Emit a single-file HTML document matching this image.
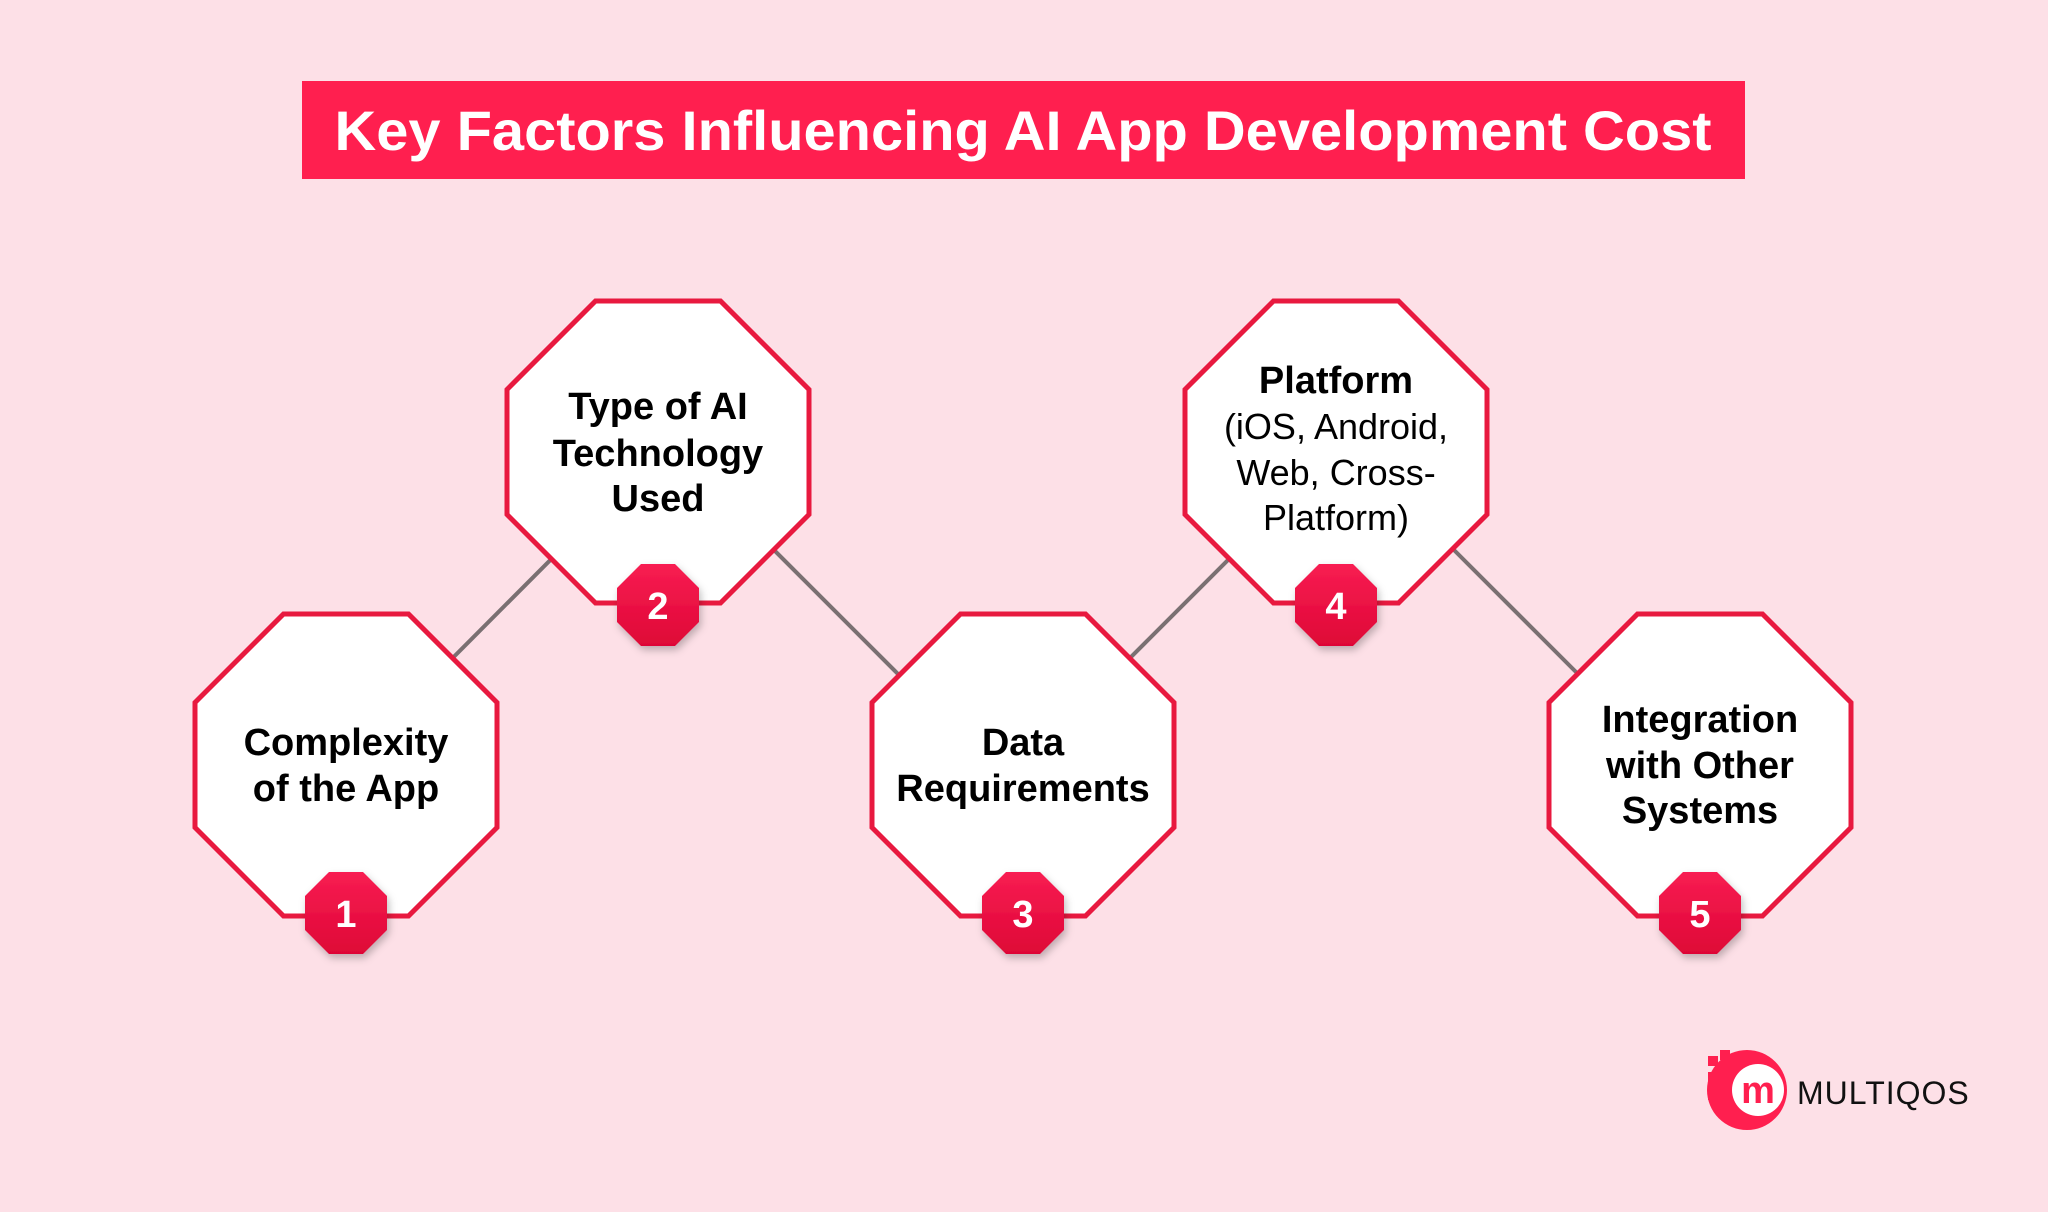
<!DOCTYPE html>
<html><head><meta charset="utf-8"><style>
html,body{margin:0;padding:0;background:#fde0e7;}
svg{display:block;}
.t{font-family:"Liberation Sans",sans-serif;font-weight:bold;font-size:38px;fill:#000;text-anchor:middle;}
.n{font-family:"Liberation Sans",sans-serif;font-weight:normal;font-size:36px;fill:#000;text-anchor:middle;}
.b{font-family:"Liberation Sans",sans-serif;font-weight:bold;font-size:38px;fill:#fff;text-anchor:middle;}
</style></head><body>
<svg width="2048" height="1212" viewBox="0 0 2048 1212" xmlns="http://www.w3.org/2000/svg">
<defs>
<polygon id="oct" points="-62.5,-151 62.5,-151 151,-62.5 151,62.5 62.5,151 -62.5,151 -151,62.5 -151,-62.5" fill="#fff" stroke="#e8193f" stroke-width="5"/>
<linearGradient id="g" x1="0" y1="0" x2="0" y2="1"><stop offset="0" stop-color="#f81d52"/><stop offset="1" stop-color="#de0636"/></linearGradient>
<filter id="sh" x="-50%" y="-50%" width="200%" height="200%"><feDropShadow dx="2" dy="4" stdDeviation="4" flood-color="#000" flood-opacity="0.25"/></filter>
<polygon id="bad" points="-17,-41 17,-41 41,-17 41,17 17,41 -17,41 -41,17 -41,-17" fill="url(#g)" filter="url(#sh)"/>
</defs>
<rect width="2048" height="1212" fill="#fde0e7"/>
<rect x="302" y="81" width="1443" height="98" fill="#ff1f4f"/>
<text x="1023" y="150" font-family="Liberation Sans,sans-serif" font-weight="bold" font-size="56" fill="#fff" text-anchor="middle" textLength="1377" lengthAdjust="spacingAndGlyphs">Key Factors Influencing AI App Development Cost</text>
<g stroke="#7a7072" stroke-width="4">
<line x1="346" y1="765" x2="658" y2="452"/>
<line x1="740" y1="516" x2="930" y2="706"/>
<line x1="1023" y1="765" x2="1336" y2="452"/>
<line x1="1420" y1="516" x2="1610" y2="706"/>
</g>
<use href="#oct" x="346" y="765"/>
<use href="#oct" x="658" y="452"/>
<use href="#oct" x="1023" y="765"/>
<use href="#oct" x="1336" y="452"/>
<use href="#oct" x="1700" y="765"/>
<use href="#bad" x="346" y="913"/>
<use href="#bad" x="658" y="605"/>
<use href="#bad" x="1023" y="913"/>
<use href="#bad" x="1336" y="605"/>
<use href="#bad" x="1700" y="913"/>
<text class="b" x="346" y="927">1</text>
<text class="b" x="658" y="619">2</text>
<text class="b" x="1023" y="927">3</text>
<text class="b" x="1336" y="619">4</text>
<text class="b" x="1700" y="927">5</text>
<text class="t" x="346" y="755">Complexity</text>
<text class="t" x="346" y="801">of the App</text>
<text class="t" x="658" y="419">Type of AI</text>
<text class="t" x="658" y="466">Technology</text>
<text class="t" x="658" y="511">Used</text>
<text class="t" x="1023" y="755">Data</text>
<text class="t" x="1023" y="801">Requirements</text>
<text class="t" x="1336" y="393">Platform</text>
<text class="n" x="1336" y="439">(iOS, Android,</text>
<text class="n" x="1336" y="485">Web, Cross-</text>
<text class="n" x="1336" y="530">Platform)</text>
<text class="t" x="1700" y="732">Integration</text>
<text class="t" x="1700" y="778">with Other</text>
<text class="t" x="1700" y="823">Systems</text>
<g>
<circle cx="1747" cy="1090" r="40" fill="#ff1f4f"/>
<circle cx="1758" cy="1090" r="26" fill="#fff"/>
<text x="1758" y="1103" font-family="Liberation Sans,sans-serif" font-weight="bold" font-size="38" fill="#ff1f4f" text-anchor="middle">m</text>
<rect x="1708" y="1056" width="10" height="10" fill="#ff1f4f"/>
<rect x="1720" y="1050" width="10" height="10" fill="#ff1f4f"/>
<rect x="1708" y="1072" width="12" height="10" fill="#ff1f4f"/>
<rect x="1708" y="1090" width="10" height="10" fill="#ff1f4f"/>
<text x="1797" y="1104" font-family="Liberation Sans,sans-serif" font-size="32" fill="#111" letter-spacing="1">MULTIQOS</text>
</g>
</svg>
</body></html>
